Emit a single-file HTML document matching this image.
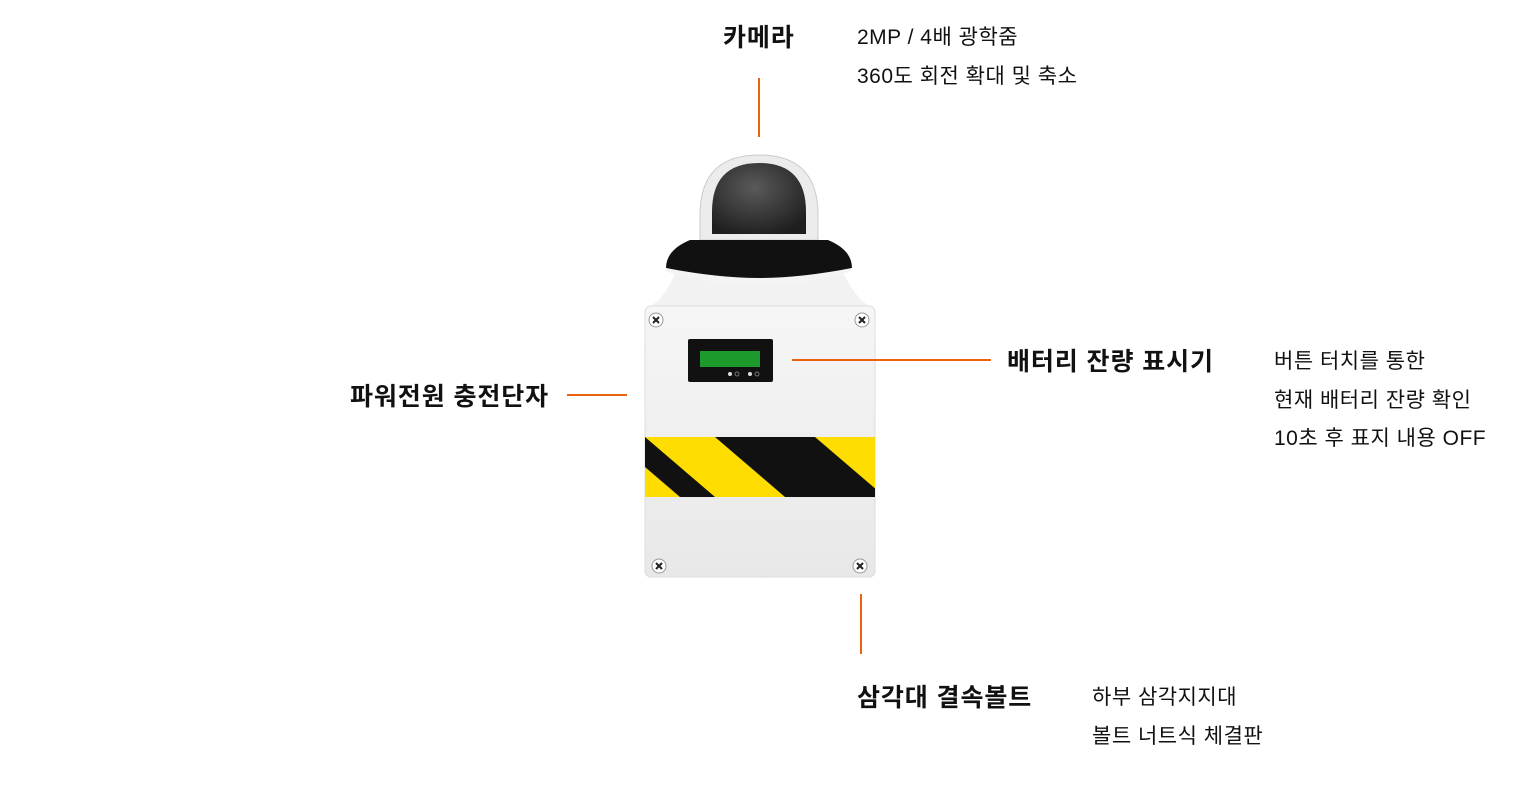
<!DOCTYPE html>
<html><head><meta charset="utf-8"><style>
body{margin:0;width:1520px;height:792px;background:#fff;overflow:hidden;position:relative;font-family:"Liberation Sans","Noto Sans CJK KR",sans-serif;color:#111}
.t{position:absolute;font-weight:bold;font-size:25px;letter-spacing:0.9px;line-height:30px;white-space:nowrap}
.d{position:absolute;font-size:21px;letter-spacing:0.5px;line-height:38.5px;white-space:nowrap}
</style></head><body>
<svg width="1520" height="792" style="position:absolute;left:0;top:0">
<defs>
<linearGradient id="g1" x1="0" y1="0" x2="0" y2="1"><stop offset="0" stop-color="#f6f6f6"/><stop offset="1" stop-color="#e8e8e8"/></linearGradient>
<radialGradient id="dm" cx="0.45" cy="0.35" r="0.7"><stop offset="0" stop-color="#5a5a5a"/><stop offset="1" stop-color="#1e1e1e"/></radialGradient>
<clipPath id="bc"><rect x="645" y="437" width="230" height="60"/></clipPath>
</defs>
<path d="M700 240 L700 215 Q700 155 759 155 Q818 155 818 215 L818 240 Z" fill="#ececec" stroke="#ccc"/>
<path d="M712 234 L712 212 Q712 163 759 163 Q806 163 806 212 L806 234 Z" fill="url(#dm)"/>
<path d="M680 262 Q665 300 650 306 L870 306 Q855 300 838 262 Z" fill="#f2f2f2"/>
<path d="M690 240 L828 240 Q852 250 852 268 Q800 282 759 282 Q718 282 666 268 Q666 250 690 240 Z" fill="#111"/>
<path d="M666 268 Q718 278 759 278 Q800 278 852 268 L850 272 Q800 286 759 286 Q718 286 668 272 Z" fill="#f4f4f4"/>
<rect x="645" y="306" width="230" height="271" rx="6" fill="url(#g1)" stroke="#ddd"/>
<g clip-path="url(#bc)">
<rect x="645" y="437" width="230" height="60" fill="#ffdd00"/>
<polygon points="715,437 815,437 885,497 785,497" fill="#111"/>
<polygon points="610,437 645,437 715,497 680,497" fill="#111"/>
</g>
<rect x="688" y="339" width="85" height="43" rx="2" fill="#111"/>
<rect x="700" y="351" width="60" height="16" fill="#1e9a2c"/>
<circle cx="730" cy="374" r="2" fill="#ddd"/><circle cx="737" cy="374" r="2" fill="none" stroke="#777"/>
<circle cx="750" cy="374" r="2" fill="#ddd"/><circle cx="757" cy="374" r="2" fill="none" stroke="#777"/>
<g fill="#fff" stroke="#999"><circle cx="656" cy="320" r="7"/><circle cx="862" cy="320" r="7"/><circle cx="659" cy="566" r="7"/><circle cx="860" cy="566" r="7"/></g>
<g stroke="#222" stroke-width="2"><path d="M653 317l6 6M659 317l-6 6M859 317l6 6M865 317l-6 6M656 563l6 6M662 563l-6 6M857 563l6 6M863 563l-6 6"/></g>
<g stroke="#e8620f" stroke-width="2">
<line x1="759" y1="78" x2="759" y2="137"/>
<line x1="792" y1="360" x2="991" y2="360"/>
<line x1="567" y1="395" x2="627" y2="395"/>
<line x1="861" y1="594" x2="861" y2="654"/>
</g>
</svg>
<div class="t" style="left:723px;top:23px">카메라</div>
<div class="d" style="left:857px;top:19px">2MP / 4배 광학줌<br>360도 회전 확대 및 축소</div>
<div class="t" style="left:1007px;top:347px">배터리 잔량 표시기</div>
<div class="d" style="left:1274px;top:343px">버튼 터치를 통한<br>현재 배터리 잔량 확인<br>10초 후 표지 내용 OFF</div>
<div class="t" style="left:350px;top:382px">파워전원 충전단자</div>
<div class="t" style="left:857px;top:683px">삼각대 결속볼트</div>
<div class="d" style="left:1092px;top:679px">하부 삼각지지대<br>볼트 너트식 체결판</div>
</body></html>
